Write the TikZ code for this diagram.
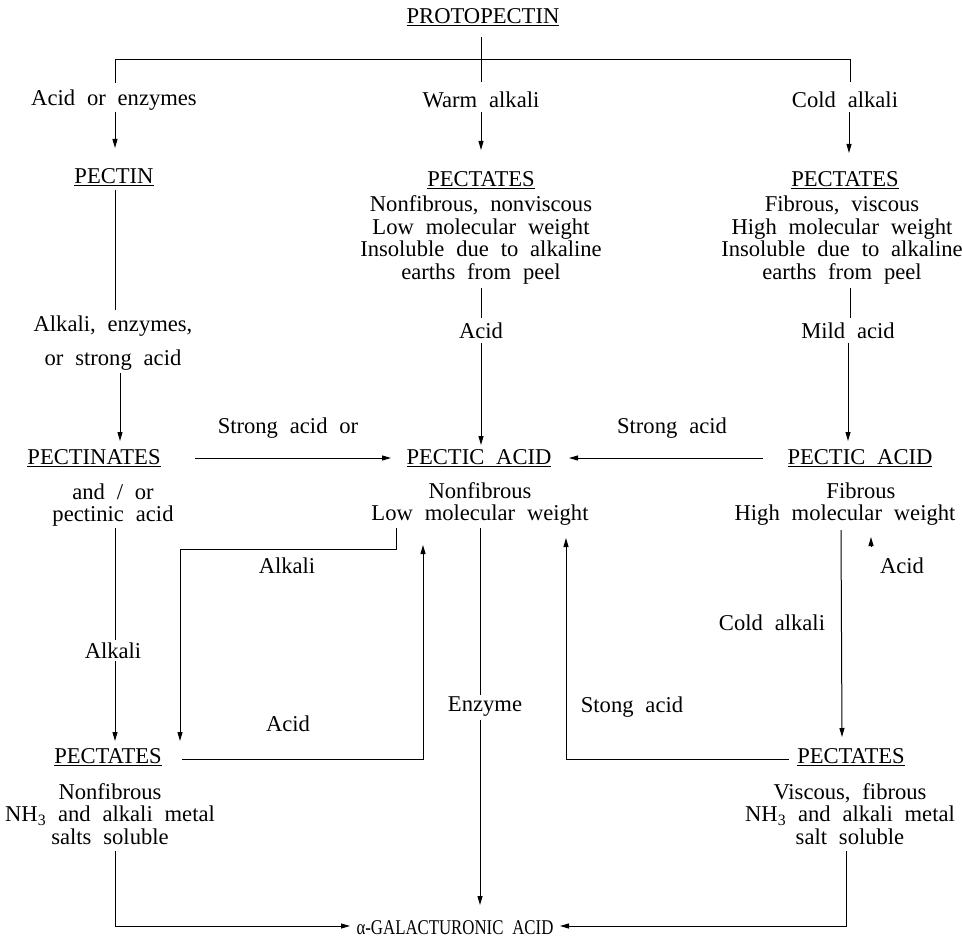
\documentclass[tikz,border=0pt]{standalone}
\usepackage{fontspec}
\usepackage{graphicx}
\setmainfont{Liberation Serif}[WordSpace=2.1]
\usetikzlibrary{arrows.meta}
\begin{document}
\begin{tikzpicture}[x=1pt,y=-1pt,
  lbl/.style={inner sep=0pt, font=\fontsize{22.6}{22.7}\selectfont, align=center},
  ln/.style={line width=1pt},
  arr/.style={line width=1pt,-{Triangle[length=9pt,width=5pt]}}]
\useasboundingbox (0,0) rectangle (962,939);
% ---- text nodes
\node[lbl] (proto) at (483,17) {\underline{PROTOPECTIN}};
\node[lbl] (acidenz) at (114,100) {Acid or enzymes};
\node[lbl] (warm) at (481,100) {Warm alkali};
\node[lbl] (cold) at (845,100) {Cold alkali};
\node[lbl] (pectin) at (114,177) {\underline{PECTIN}};
\node[lbl] (pectW) at (481,180) {\underline{PECTATES}};
\node[lbl] (descW) at (481,240) {Nonfibrous, nonviscous\\Low molecular weight\\Insoluble due to alkaline\\earths from peel};
\node[lbl] (pectC) at (845,180) {\underline{PECTATES}};
\node[lbl] (descC) at (842,240) {Fibrous, viscous\\High molecular weight\\Insoluble due to alkaline\\earths from peel};
\node[lbl] (acidA) at (481,331) {Acid};
\node[lbl] (mild) at (848,331) {Mild acid};
\node[lbl] (alkenz) at (113,343) {Alkali, enzymes,\\[11pt]or strong acid};
\node[lbl] (pectinates) at (94,458) {\underline{PECTINATES}};
\node[lbl] (andor) at (113,505) {and / or\\pectinic acid};
\node[lbl] (strongor) at (288,428) {Strong acid or};
\node[lbl] (pecticC) at (479,458) {\underline{PECTIC ACID}};
\node[lbl] (descPC) at (480,504) {Nonfibrous\\Low molecular weight};
\node[lbl] (strongR) at (672,428) {Strong acid};
\node[lbl] (pecticR) at (860,458) {\underline{PECTIC ACID}};
\node[lbl] (descPR) at (845,504) {\hspace*{32pt}Fibrous\\High molecular weight};
\node[lbl] (acidS) at (902,566) {Acid};
\node[lbl] (alkbox) at (287,566) {Alkali};
\node[lbl] (alkL) at (113,651) {Alkali};
\node[lbl] (coldR) at (772,623) {Cold alkali};
\node[lbl] (acidL) at (288,724) {Acid};
\node[lbl] (enzyme) at (485,707) {Enzyme};
\node[lbl] (stong) at (632,707) {Stong acid};
\node[lbl] (pectL) at (108,757) {\underline{PECTATES}};
\node[lbl] (descL) at (110,814) {Nonfibrous\\NH\textsubscript{3} and alkali metal\\salts soluble};
\node[lbl] (pectR) at (851,757) {\underline{PECTATES}};
\node[lbl] (descR) at (850,814) {Viscous, fibrous\\NH\textsubscript{3} and alkali metal\\salt soluble};
\node[lbl, font=\fontsize{21}{22}\selectfont] (galact) at (455,928) {\scalebox{0.8}[1]{α-GALACTURONIC ACID}};
% ---- connector points
\coordinate (t0) at (481,37); \coordinate (j0) at (481,60);
\coordinate (jL) at (115,60); \coordinate (jR) at (850,60);
\coordinate (l1e) at (115,83); \coordinate (l1s) at (115,112); \coordinate (l1t) at (115,148);
\coordinate (m1e) at (481,82); \coordinate (m1s) at (481,112); \coordinate (m1t) at (481,150);
\coordinate (r1e) at (850,82); \coordinate (r1s) at (849,112); \coordinate (r1t) at (849,153);
\coordinate (p1) at (115,190); \coordinate (p2) at (115,310);
\coordinate (p3) at (120,373); \coordinate (p4) at (120,441);
\coordinate (w1) at (481,288); \coordinate (w2) at (481,318);
\coordinate (w3) at (481,343); \coordinate (w4) at (481,445);
\coordinate (c1) at (850,288); \coordinate (c2) at (850,318);
\coordinate (c3) at (848,343); \coordinate (c4) at (848,441);
\coordinate (h1) at (195,458); \coordinate (h2) at (391,458);
\coordinate (h3) at (763,458); \coordinate (h4) at (569,458);
\coordinate (q1) at (115,528); \coordinate (q2) at (115,640);
\coordinate (q3) at (115,661); \coordinate (q4) at (115,741);
\coordinate (b1) at (396,528); \coordinate (b2) at (396,549);
\coordinate (b3) at (180,549); \coordinate (b4) at (180,741);
\coordinate (e1) at (182,759); \coordinate (e2) at (423,759); \coordinate (e3) at (423,545);
\coordinate (n1) at (480,528); \coordinate (n2) at (480,695);
\coordinate (n3) at (480,720); \coordinate (n4) at (480,905);
\coordinate (s1) at (789,759); \coordinate (s2) at (566,759); \coordinate (s3) at (566,538);
\coordinate (d1) at (841,530); \coordinate (d2) at (842,737);
\coordinate (u1) at (871,547); \coordinate (u2) at (871,537);
\coordinate (g1) at (115,851); \coordinate (g2) at (115,926); \coordinate (g3) at (350,926);
\coordinate (k1) at (846,851); \coordinate (k2) at (846,926); \coordinate (k3) at (560,926);
% ---- connectors
\draw[ln] (t0) -- (m1e);
\draw[ln] (l1e) -- (jL) -- (jR) -- (r1e);
\draw[arr] (l1s) -- (l1t);
\draw[arr] (m1s) -- (m1t);
\draw[arr] (r1s) -- (r1t);
\draw[ln] (p1) -- (p2);
\draw[arr] (p3) -- (p4);
\draw[ln] (w1) -- (w2);
\draw[arr] (w3) -- (w4);
\draw[ln] (c1) -- (c2);
\draw[arr] (c3) -- (c4);
\draw[arr] (h1) -- (h2);
\draw[arr] (h3) -- (h4);
\draw[ln] (q1) -- (q2);
\draw[arr] (q3) -- (q4);
\draw[arr] (b1) -- (b2) -- (b3) -- (b4);
\draw[arr] (e1) -- (e2) -- (e3);
\draw[ln] (n1) -- (n2);
\draw[arr] (n3) -- (n4);
\draw[arr] (s1) -- (s2) -- (s3);
\draw[arr] (d1) -- (d2);
\draw[arr] (u1) -- (u2);
\draw[arr] (g1) -- (g2) -- (g3);
\draw[arr] (k1) -- (k2) -- (k3);
\end{tikzpicture}
\end{document}
